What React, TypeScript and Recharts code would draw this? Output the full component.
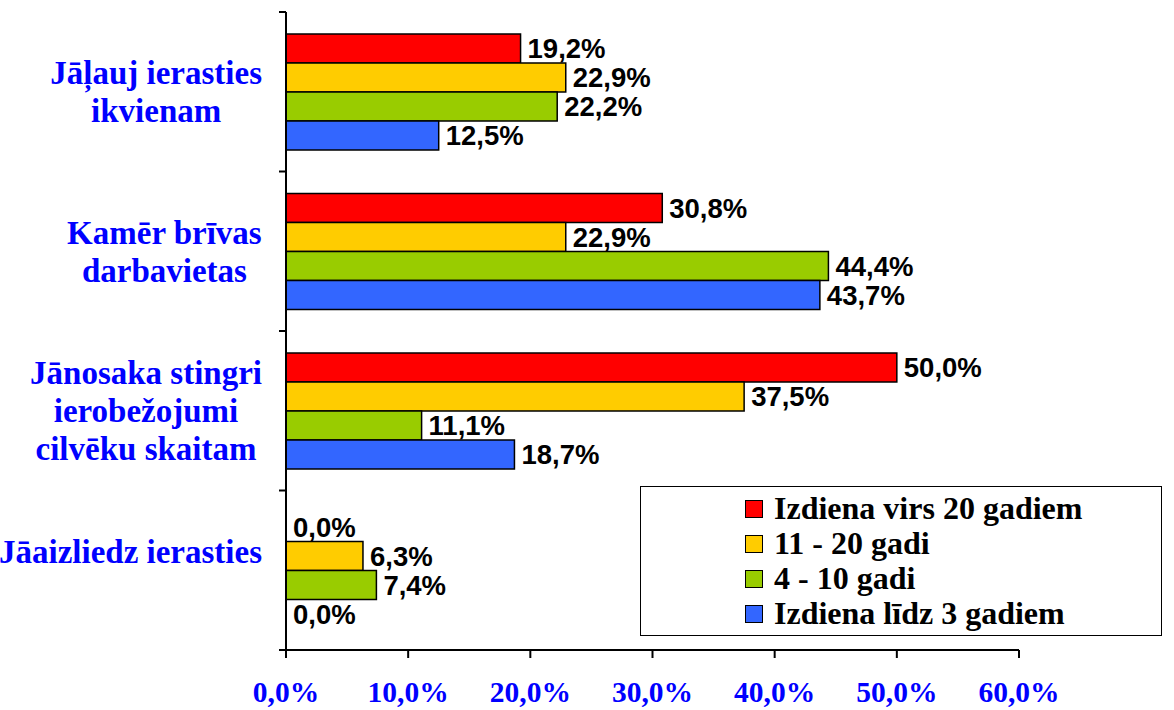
import { BarChart, Bar, XAxis, YAxis, LabelList, Legend } from 'recharts';

// categories (top to bottom); an empty line keeps the last label raised like the original
const categoryLines = [
  ['Jāļauj ierasties', 'ikvienam'],
  ['Kamēr brīvas', 'darbavietas'],
  ['Jānosaka stingri', 'ierobežojumi', 'cilvēku skaitam'],
  ['Jāaizliedz ierasties', ''],
];
const categories = categoryLines.map((l) => l.filter(Boolean).join(' '));

const seriesNames = ['Izdiena virs 20 gadiem', '11 - 20 gadi', '4 - 10 gadi', 'Izdiena līdz 3 gadiem'];
const over20 = [19.2, 30.8, 50.0, 0.0];
const from11to20 = [22.9, 22.9, 37.5, 6.3];
const from4to10 = [22.2, 44.4, 11.1, 7.4];
const upTo3 = [12.5, 43.7, 18.7, 0.0];
const seriesColors = ['#ff0000', '#ffcc00', '#99cc00', '#3366ff'];
const xTicks = [0, 10, 20, 30, 40, 50, 60];

const seriesKeys = ['over20', 'from11to20', 'from4to10', 'upTo3'];

const data = categories.map((name, i) => ({
  name,
  over20: over20[i],
  from11to20: from11to20[i],
  from4to10: from4to10[i],
  upTo3: upTo3[i],
}));

const W = 1174;
const H = 710;
const MARGIN = { top: 12, right: 155, bottom: 0, left: 0 };
const X_AXIS_H = 60;
const Y_AXIS_W = 286;
const BAND = (H - MARGIN.top - MARGIN.bottom - X_AXIS_H) / categories.length;

const SERIF = '"Liberation Serif", "Times New Roman", serif';
const SANS = '"Liberation Sans", Arial, sans-serif';
const BLUE = '#0000ff';
const CAT_FONT = 33;
const LINE_H = 38;

let ctx: CanvasRenderingContext2D | null = null;
const measure = (s: string) => {
  if (!ctx) ctx = document.createElement('canvas').getContext('2d');
  if (!ctx) return s.length * CAT_FONT * 0.5;
  ctx.font = `bold ${CAT_FONT}px ${SERIF}`;
  return ctx.measureText(s).width;
};

const fmt = (v: number) => `${v.toFixed(1).replace('.', ',')}%`;

const CategoryTick = (props: any) => {
  const { x, y, index } = props;
  const lines: string[] = categoryLines[index] ?? [];
  const blockW = Math.max(...lines.map(measure));
  const cx = x - 17 - blockW / 2;
  const top = y - ((lines.length - 1) * LINE_H) / 2;
  return (
    <g>
      <line x1={x} x2={x + 7} y1={y - BAND / 2} y2={y - BAND / 2} stroke="#000" strokeWidth={2} />
      {index === categories.length - 1 && (
        <line x1={x} x2={x + 7} y1={y + BAND / 2} y2={y + BAND / 2} stroke="#000" strokeWidth={2} />
      )}
      <text textAnchor="middle" fill={BLUE} fontFamily={SERIF} fontWeight="bold" fontSize={CAT_FONT}>
        {lines.map((l, i) => (
          <tspan key={i} x={cx} y={top + i * LINE_H} dy="0.35em">
            {l}
          </tspan>
        ))}
      </text>
    </g>
  );
};

const LegendBox = () => (
  <div
    style={{
      width: 522,
      height: 150,
      boxSizing: 'border-box',
      border: '1.5px solid #000',
      background: '#fff',
      padding: '4px 0 0 104px',
    }}
  >
    {seriesNames.map((n, i) => (
      <div
        key={n}
        style={{
          display: 'flex',
          alignItems: 'center',
          height: 35,
          fontFamily: SERIF,
          fontWeight: 'bold',
          fontSize: 32,
          color: '#000',
          whiteSpace: 'nowrap',
        }}
      >
        <span
          style={{
            width: 18,
            height: 18,
            boxSizing: 'border-box',
            border: '1.5px solid #000',
            background: seriesColors[i],
            marginRight: 11,
            flex: 'none',
          }}
        />
        {n}
      </div>
    ))}
  </div>
);

export default function App() {
  return (
    <div style={{ position: 'absolute', left: 0, top: 0, width: W, height: H, background: '#fff' }}>
      <BarChart width={W} height={H} data={data} layout="vertical" margin={MARGIN} barSize={29} barGap={0}>
        <XAxis
          type="number"
          domain={[0, 60]}
          ticks={xTicks}
          tickFormatter={fmt}
          height={X_AXIS_H}
          axisLine={{ stroke: '#000', strokeWidth: 2 }}
          tickLine={{ stroke: '#000', strokeWidth: 2 }}
          tickSize={8}
          tickMargin={23}
          tick={{ fill: BLUE, fontFamily: SERIF, fontWeight: 'bold', fontSize: 29.5 }}
        />
        <YAxis
          type="category"
          dataKey="name"
          width={Y_AXIS_W}
          axisLine={{ stroke: '#000', strokeWidth: 2 }}
          tickLine={false}
          tickSize={7}
          tickMargin={0}
          interval={0}
          tick={<CategoryTick />}
        />
        <Legend
          layout="vertical"
          align="center"
          verticalAlign="middle"
          wrapperStyle={{ position: 'absolute', left: 640, top: 486, width: 522, height: 150 }}
          content={() => <LegendBox />}
        />
        {seriesKeys.map((k, i) => (
          <Bar
            key={k}
            dataKey={k}
            name={seriesNames[i]}
            fill={seriesColors[i]}
            stroke="#000"
            strokeWidth={1.5}
            minPointSize={0.01}
            isAnimationActive={false}
          >
            <LabelList
              dataKey={k}
              position="right"
              offset={7}
              formatter={(v: any) => fmt(Number(v))}
              fill="#000"
              fontFamily={SANS}
              fontWeight="bold"
              fontSize={27.5}
            />
          </Bar>
        ))}
      </BarChart>
    </div>
  );
}
